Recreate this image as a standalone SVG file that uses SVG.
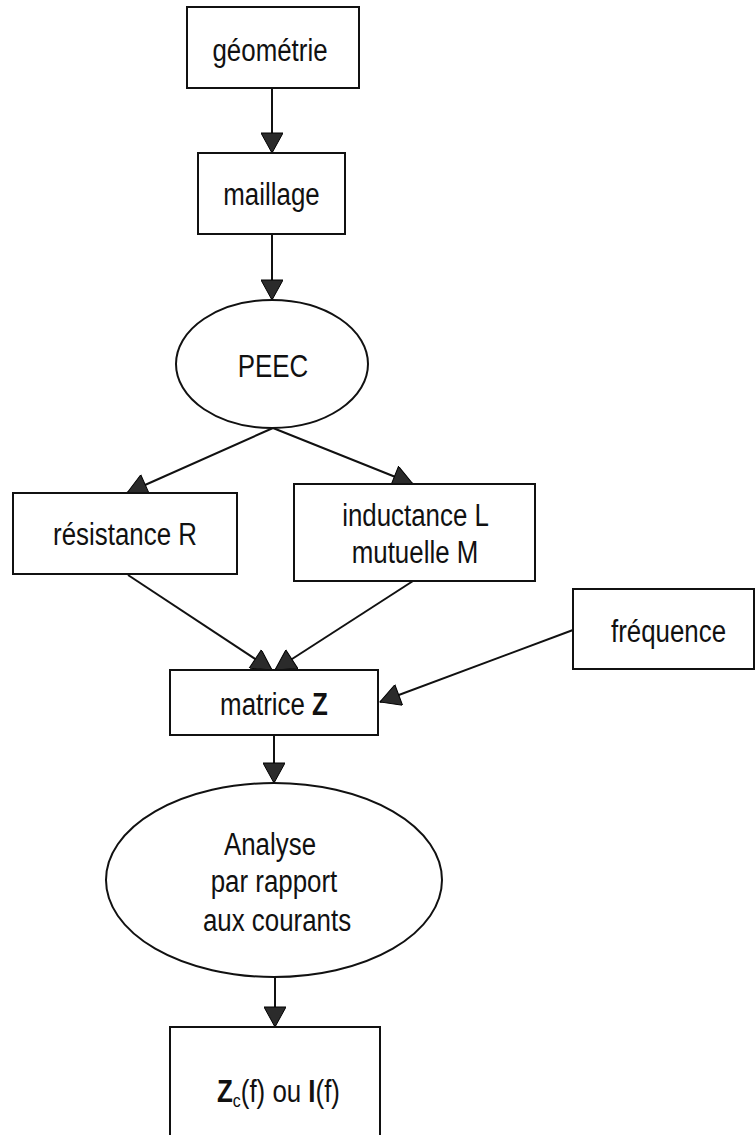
<svg xmlns="http://www.w3.org/2000/svg" width="755" height="1135" viewBox="0 0 755 1135">
  <defs>
    <marker id="arrow" markerUnits="userSpaceOnUse" markerWidth="22" markerHeight="22" viewBox="0 0 20 22" refX="20" refY="11" orient="auto">
      <path d="M0,0 L20,11 L0,22 z" fill="#2b2b2b" stroke="#000" stroke-width="1"/>
    </marker>
    <style>
      .box { fill: #fff; stroke: #111; stroke-width: 2; }
      .lbl { font-family: "Liberation Sans", Arial, sans-serif; font-size: 31px; fill: #111; text-anchor: middle; }
      .b { font-weight: bold; }
      .sub { font-size: 19px; }
      .edge { fill: none; stroke: #111; stroke-width: 2; marker-end: url(#arrow); }
    </style>
  </defs>

  <rect width="755" height="1135" fill="#fff"/>

  <!-- connectors -->
  <g id="connectors">
    <line class="edge" x1="272" y1="88" x2="272" y2="153"/>
    <line class="edge" x1="272" y1="234" x2="272" y2="300"/>
    <line class="edge" x1="273" y1="428" x2="127" y2="493"/>
    <line class="edge" x1="273" y1="428" x2="413" y2="484"/>
    <line class="edge" x1="128" y1="575" x2="272" y2="670"/>
    <line class="edge" x1="413" y1="581" x2="275" y2="670"/>
    <line class="edge" x1="573" y1="630" x2="380" y2="702"/>
    <line class="edge" x1="274" y1="735" x2="274" y2="783"/>
    <line class="edge" x1="275" y1="977" x2="275" y2="1027"/>
  </g>

  <!-- labels use a condensed sans: scale(0.835,1) -->
  <g id="geometrie">
    <rect class="box" x="187" y="7" width="172" height="81"/>
    <text class="lbl" transform="translate(270,61) scale(0.835,1)">géométrie</text>
  </g>

  <g id="maillage">
    <rect class="box" x="198" y="153" width="147" height="81"/>
    <text class="lbl" transform="translate(271.5,205) scale(0.835,1)">maillage</text>
  </g>

  <g id="peec">
    <ellipse class="box" cx="272" cy="364" rx="96" ry="64"/>
    <text class="lbl" transform="translate(273,377) scale(0.835,1)">PEEC</text>
  </g>

  <g id="resistance">
    <rect class="box" x="13" y="493" width="224" height="81"/>
    <text class="lbl" transform="translate(125,545) scale(0.835,1)">résistance R</text>
  </g>

  <g id="inductance">
    <rect class="box" x="294" y="484" width="241" height="97"/>
    <text class="lbl" transform="translate(415.5,526) scale(0.835,1)">inductance L</text>
    <text class="lbl" transform="translate(415,563) scale(0.835,1)">mutuelle M</text>
  </g>

  <g id="frequence">
    <rect class="box" x="573" y="589" width="181" height="80"/>
    <text class="lbl" transform="translate(668.5,642) scale(0.835,1)">fréquence</text>
  </g>

  <g id="matrice">
    <rect class="box" x="170" y="670" width="208" height="65"/>
    <text class="lbl" transform="translate(274,715) scale(0.835,1)">matrice <tspan class="b">Z</tspan></text>
  </g>

  <g id="analyse">
    <ellipse class="box" cx="274" cy="880" rx="168" ry="97"/>
    <text class="lbl" transform="translate(270,855) scale(0.835,1)">Analyse</text>
    <text class="lbl" transform="translate(274,892) scale(0.835,1)">par rapport</text>
    <text class="lbl" transform="translate(277,931) scale(0.835,1)">aux courants</text>
  </g>

  <g id="resultat">
    <rect class="box" x="170" y="1027" width="210" height="112"/>
    <text class="lbl" transform="translate(278.5,1102) scale(0.835,1)"><tspan class="b">Z</tspan><tspan class="sub" dy="5">c</tspan><tspan dy="-5">(f) ou </tspan><tspan class="b">I</tspan>(f)</text>
  </g>
</svg>
